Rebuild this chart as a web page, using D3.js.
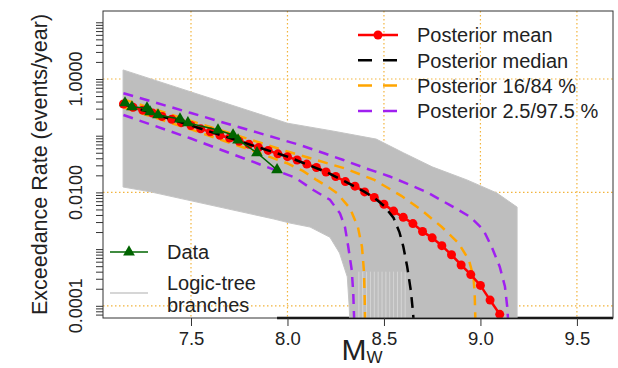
<!DOCTYPE html>
<html>
<head>
<meta charset="utf-8">
<script src="https://cdn.jsdelivr.net/npm/d3@7"></script>
<style>
  body { margin: 0; background: #fff; }
  svg { display: block; font-family: "Liberation Sans", Arial, sans-serif; }
</style>
</head>
<body>
<svg></svg>
<script>
const width = 618;
const height = 368;
const svg = d3.select("svg").attr("width", width).attr("height", height);

// axis ticks
const xTicks = [7.5, 8.0, 8.5, 9.0, 9.5];
const yLabelValues = [1, 0.01, 0.0001];
const yLabels = ["1.0000", "0.0100", "0.0001"];

// observed data
const dataM = [7.158, 7.194, 7.272, 7.288, 7.329, 7.443, 7.484, 7.640, 7.718, 7.744, 7.842, 7.946];
const dataRate = [0.378, 0.321, 0.308, 0.262, 0.232, 0.197, 0.168, 0.126, 0.103, 0.084, 0.050, 0.025];

// posterior mean
const meanM = [7.15, 7.20, 7.25, 7.30, 7.35, 7.40, 7.45, 7.50, 7.55, 7.60,
  7.65, 7.70, 7.75, 7.80, 7.85, 7.90, 7.95, 8.00, 8.05, 8.10,
  8.15, 8.20, 8.25, 8.30, 8.35, 8.40, 8.45, 8.50, 8.55, 8.60,
  8.65, 8.70, 8.75, 8.80, 8.85, 8.90, 8.95, 9.00, 9.05, 9.10];
const meanRate = [0.363, 0.316, 0.282, 0.251, 0.219, 0.195, 0.170, 0.151, 0.132, 0.117,
  0.102, 0.0912, 0.0794, 0.0708, 0.0617, 0.0550, 0.0479, 0.0427, 0.0372, 0.0316,
  0.0275, 0.0229, 0.0191, 0.0155, 0.0129, 0.0102, 0.00813, 0.00617, 0.00468, 0.00363,
  0.00282, 0.00204, 0.00158, 0.00115, 0.000794, 0.000525, 0.000355, 0.000229, 0.000126, 0.0000708];

// posterior median
const medianM = [7.15, 7.50, 8.00, 8.20, 8.30, 8.40, 8.45, 8.50, 8.55, 8.58, 8.60, 8.62, 8.64, 8.65, 8.66];
const medianRate = [0.363, 0.151, 0.0427, 0.0229, 0.0155, 0.0102, 0.0080, 0.0058, 0.00355, 0.0020,
  0.00112, 0.0005, 0.000178, 0.0000794, 0.00003];

// posterior 16 / 84 %
const p16M = [7.15, 7.50, 7.80, 8.00, 8.08, 8.15, 8.21, 8.256, 8.324, 8.365, 8.386, 8.396, 8.40, 8.403];
const p16Rate = [0.316, 0.129, 0.0575, 0.0324, 0.0240, 0.0166, 0.0126, 0.00977, 0.00525, 0.00245,
  0.00110, 0.000427, 0.000145, 0.0000398];
const p84M = [7.15, 7.50, 7.80, 8.00, 8.15, 8.30, 8.45, 8.59, 8.69, 8.80, 8.885, 8.94, 8.964, 8.97, 8.975];
const p84Rate = [0.437, 0.182, 0.0871, 0.0525, 0.0372, 0.0263, 0.0166, 0.00871, 0.00501, 0.00245,
  0.00129, 0.000646, 0.000324, 0.000170, 0.0000398];

// posterior 2.5 / 97.5 %
const p025M = [7.15, 7.50, 8.04, 8.134, 8.22, 8.272, 8.298, 8.315, 8.333, 8.341, 8.345, 8.347];
const p025Rate = [0.232, 0.0891, 0.0182, 0.0110, 0.00741, 0.00427, 0.00245, 0.00110, 0.000427,
  0.000166, 0.0000646, 0.0000398];
const p975M = [7.15, 7.50, 8.07, 8.19, 8.29, 8.41, 8.53, 8.63, 8.72, 8.84, 8.946, 9.015, 9.058, 9.10, 9.127, 9.139, 9.146];
const p975Rate = [0.562, 0.251, 0.0676, 0.0490, 0.0372, 0.0263, 0.0191, 0.0138, 0.0102, 0.00603,
  0.00372, 0.00219, 0.00110, 0.000490, 0.000219, 0.0000955, 0.0000398];

// envelope of the logic-tree branches
const branchUpperM = [7.148, 8.00, 8.24, 8.46, 8.60, 8.75, 8.93, 9.085, 9.19, 9.19];
const branchUpperRate = [1.445, 0.166, 0.120, 0.0871, 0.0501, 0.0282, 0.0166, 0.00977, 0.00550, 0.0000316];
const branchLowerM = [7.148, 7.29, 7.93, 8.013, 8.117, 8.22, 8.27, 8.31, 8.32, 8.325];
const branchLowerRate = [0.01245, 0.01023, 0.00339, 0.00288, 0.00245, 0.00162, 0.000851, 0.000324, 0.0000955, 0.0000316];
// gaps between branch end points near the floor
const branchGapM = [8.37, 8.39, 8.41, 8.43, 8.45, 8.47, 8.49, 8.51, 8.53, 8.55, 8.57, 8.59, 8.61];
const branchGapTop = 0.0004;

const margin = {top: 11, right: 5, bottom: 50, left: 103};
const x = d3.scaleLinear().domain([7.044, 9.687]).range([margin.left, width - margin.right]);
const y = d3.scaleLog().domain([Math.pow(10, -4.215), Math.pow(10, 1.199)]).range([height - margin.bottom, margin.top]);

const zip = (ms, rs) => ms.map((m, i) => ({m: m, r: rs[i]}));
const line = d3.line().x(d => x(d.m)).y(d => y(d.r));

svg.append("defs").append("clipPath").attr("id", "plotClip")
  .append("rect")
  .attr("x", margin.left).attr("y", margin.top)
  .attr("width", width - margin.left - margin.right)
  .attr("height", height - margin.top - margin.bottom);

// grid
const grid = svg.append("g")
  .attr("stroke", "#f2b43c")
  .attr("stroke-width", 1.2)
  .attr("stroke-dasharray", "1.5,2.5");
xTicks.forEach(t => {
  grid.append("line").attr("x1", x(t)).attr("x2", x(t))
    .attr("y1", margin.top).attr("y2", height - margin.bottom);
});
yLabelValues.forEach(t => {
  grid.append("line").attr("x1", margin.left).attr("x2", width - margin.right)
    .attr("y1", y(t)).attr("y2", y(t));
});

// data tail along the floor
svg.append("line")
  .attr("x1", x(dataM[dataM.length - 1])).attr("x2", width - margin.right)
  .attr("y1", height - margin.bottom).attr("y2", height - margin.bottom)
  .attr("stroke", "#000").attr("stroke-width", 2.5);

const plot = svg.append("g").attr("clip-path", "url(#plotClip)");

// logic-tree branches
const envelope = zip(branchUpperM, branchUpperRate)
  .concat(zip(branchLowerM, branchLowerRate).reverse());
plot.append("path")
  .attr("d", line(envelope) + "Z")
  .attr("fill", "#bebebe")
  .attr("stroke", "#c4c4c4")
  .attr("stroke-width", 1);
plot.selectAll("line.gap")
  .data(branchGapM)
  .join("line")
  .attr("class", "gap")
  .attr("x1", d => x(d)).attr("x2", d => x(d))
  .attr("y1", y(branchGapTop)).attr("y2", height - margin.bottom)
  .attr("stroke", "#f2f2f2")
  .attr("stroke-opacity", 0.45)
  .attr("stroke-width", 1);

// posterior quantiles
const dashed = [
  {m: p025M, r: p025Rate, color: "#a020f0"},
  {m: p975M, r: p975Rate, color: "#a020f0"},
  {m: p16M, r: p16Rate, color: "#ffa500"},
  {m: p84M, r: p84Rate, color: "#ffa500"}
];
dashed.forEach(s => {
  plot.append("path")
    .attr("d", line(zip(s.m, s.r)))
    .attr("fill", "none")
    .attr("stroke", s.color)
    .attr("stroke-width", 2.5)
    .attr("stroke-dasharray", "10,7");
});

// posterior mean
plot.append("path")
  .attr("d", line(zip(meanM, meanRate)))
  .attr("fill", "none")
  .attr("stroke", "#ff0000")
  .attr("stroke-width", 2.5);
plot.selectAll("circle.mean")
  .data(zip(meanM, meanRate))
  .join("circle")
  .attr("class", "mean")
  .attr("cx", d => x(d.m))
  .attr("cy", d => y(d.r))
  .attr("r", 4.5)
  .attr("fill", "#ff0000");

// posterior median
plot.append("path")
  .attr("d", line(zip(medianM, medianRate)))
  .attr("fill", "none")
  .attr("stroke", "#000")
  .attr("stroke-width", 2.5)
  .attr("stroke-dasharray", "11,7");

// observed data
plot.append("path")
  .attr("d", line(zip(dataM, dataRate)))
  .attr("fill", "none")
  .attr("stroke", "#006400")
  .attr("stroke-width", 1.5);
const tri = d3.symbol().type(d3.symbolTriangle).size(60);
plot.selectAll("path.obs")
  .data(zip(dataM, dataRate))
  .join("path")
  .attr("class", "obs")
  .attr("d", tri)
  .attr("transform", d => `translate(${x(d.m)},${y(d.r)})`)
  .attr("fill", "#006400");

// box
svg.append("rect")
  .attr("x", margin.left).attr("y", margin.top)
  .attr("width", width - margin.left - margin.right)
  .attr("height", height - margin.top - margin.bottom)
  .attr("fill", "none")
  .attr("stroke", "#333")
  .attr("stroke-width", 1);

// x axis
const xAxis = svg.append("g")
  .attr("transform", `translate(0,${height - margin.bottom})`)
  .call(d3.axisBottom(x).tickValues(xTicks).tickSize(8).tickFormat(d3.format(".1f")));
xAxis.select(".domain").remove();
xAxis.selectAll(".tick line").attr("stroke", "#333");
xAxis.selectAll(".tick text")
  .attr("y", 14)
  .attr("dy", "0.71em")
  .attr("font-size", 18.5)
  .attr("font-family", "Liberation Sans, Arial, sans-serif")
  .attr("fill", "#222");

// y axis: log ticks
const yAxis = svg.append("g")
  .attr("transform", `translate(${margin.left},0)`)
  .call(d3.axisLeft(y).tickSize(7).tickFormat(""));
yAxis.select(".domain").remove();
yAxis.selectAll(".tick line").attr("stroke", "#333");
svg.append("g").selectAll("text")
  .data(yLabelValues)
  .join("text")
  .attr("transform", d => `translate(82,${y(d)}) rotate(-90)`)
  .attr("text-anchor", "middle")
  .attr("font-size", 18)
  .attr("fill", "#222")
  .text((d, i) => yLabels[i]);

// axis titles
svg.append("text")
  .attr("transform", `translate(47,${(margin.top + height - margin.bottom) / 2}) rotate(-90)`)
  .attr("text-anchor", "middle")
  .attr("font-size", 21.5)
  .attr("fill", "#222")
  .text("Exceedance Rate (events/year)");
const xt = svg.append("text")
  .attr("x", 362).attr("y", 360)
  .attr("text-anchor", "middle")
  .attr("fill", "#222");
xt.append("tspan").attr("font-size", 30).text("M");
xt.append("tspan").attr("font-size", 17).attr("dy", 3).text("W");

// legend: posterior
const legTop = [
  {label: "Posterior mean", color: "#ff0000", dash: null, dot: true},
  {label: "Posterior median", color: "#000", dash: "14,11", dot: false},
  {label: "Posterior 16/84 %", color: "#ffa500", dash: "14,11", dot: false},
  {label: "Posterior 2.5/97.5 %", color: "#a020f0", dash: "14,11", dot: false}
];
const lt = svg.append("g");
legTop.forEach((d, i) => {
  const cy = 35 + i * 25.3;
  lt.append("line").attr("x1", 358).attr("x2", 398).attr("y1", cy).attr("y2", cy)
    .attr("stroke", d.color).attr("stroke-width", 2.5)
    .attr("stroke-dasharray", d.dash);
  if (d.dot) lt.append("circle").attr("cx", 378).attr("cy", cy).attr("r", 4.5).attr("fill", d.color);
  lt.append("text").attr("x", 417).attr("y", cy).attr("dy", "0.36em")
    .attr("font-size", 20).attr("fill", "#222").text(d.label);
});

// legend: data / branches
const lb = svg.append("g");
lb.append("line").attr("x1", 110).attr("x2", 148).attr("y1", 252).attr("y2", 252)
  .attr("stroke", "#006400").attr("stroke-width", 1.5);
lb.append("path").attr("d", tri).attr("transform", "translate(129,252)").attr("fill", "#006400");
lb.append("text").attr("x", 167).attr("y", 252).attr("dy", "0.36em")
  .attr("font-size", 20).attr("fill", "#222").text("Data");
lb.append("line").attr("x1", 110).attr("x2", 148).attr("y1", 293).attr("y2", 293)
  .attr("stroke", "#c8c8c8").attr("stroke-width", 1.5);
lb.append("text").attr("x", 167).attr("y", 290)
  .attr("font-size", 20).attr("fill", "#222").text("Logic-tree");
lb.append("text").attr("x", 167).attr("y", 312)
  .attr("font-size", 20).attr("fill", "#222").text("branches");
</script>
</body>
</html>
